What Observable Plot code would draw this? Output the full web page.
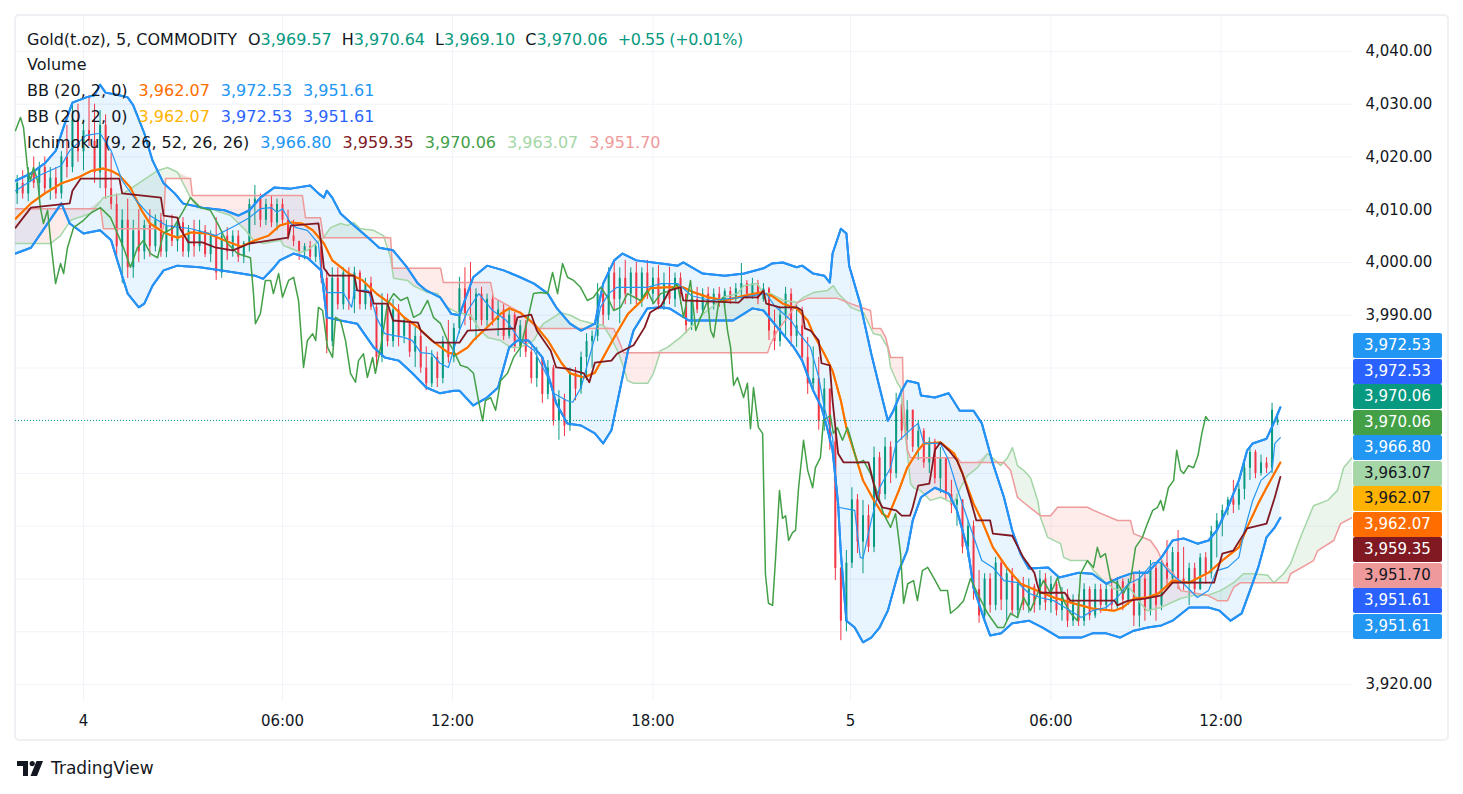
<!DOCTYPE html>
<html><head><meta charset="utf-8">
<script src="https://cdn.jsdelivr.net/npm/d3@7"></script>
<script src="https://cdn.jsdelivr.net/npm/@observablehq/plot@0.6"></script>
<style>
body{margin:0;background:#fff;font-family:"DejaVu Sans",sans-serif;color:#131722;}
#wrap{position:relative;width:1463px;height:794px;overflow:hidden;background:#fff;}
#frame{position:absolute;left:14px;top:14px;width:1435px;height:727px;border:2px solid #eef0f3;border-radius:5px;box-sizing:border-box;}
#chart{position:absolute;left:15px;top:15px;}
.row{position:absolute;left:27px;font-size:16px;line-height:20px;white-space:nowrap;}
.row span.v{margin-left:11px;}
.row span.g{margin-left:10px;}
.row span.c{margin-left:10px;letter-spacing:-0.4px;}
.tag{position:absolute;left:1353px;width:89px;height:25px;border-radius:2px;font-size:15px;line-height:17px;padding-top:4px;box-sizing:border-box;text-align:center;color:#fff;}
#logo{position:absolute;left:17px;top:757px;height:22px;display:flex;align-items:center;}
#logo span{font-size:17px;margin-left:7px;color:#131722;}
</style>
</head><body>
<div id="wrap">
  <div id="frame"></div>
  <div id="chart"></div>
  <div id="legend"></div>
  <div id="tags"></div>
  <div id="logo"><svg width="27" height="15" viewBox="0 0 27 15"><path d="M0 0H11V15H6V5H0Z" fill="#131722"/><circle cx="15.2" cy="2.6" r="2.6" fill="#131722"/><path d="M19.5 0H26L20 15H13.5Z" fill="#131722"/></svg><span>TradingView</span></div>
</div>
<script>
// ---------- data ----------
const symbolTitle = "Gold(t.oz), 5, COMMODITY";
const changeAbs = 0.55, changePct = 0.01;
const tickBars = [0, 72, 133.5, 206, 277.5, 350, 411.5];
const tickLabels = ["4", "06:00", "12:00", "18:00", "5", "06:00", "12:00"];
const yGrid = [3920, 3930, 3940, 3950, 3960, 3970, 3980, 3990, 4000, 4010, 4020, 4030, 4040];
const yLabelTicks = [3920, 3990, 4000, 4010, 4020, 4030, 4040]; // the rest sit under the value tags

// candles: one every 2 bars from bar -24
const barStart = -24, barStep = 2;
const candleOpen = [4013,4015,4013,4017,4015,4018,4014,4016,4013,4020,4018,4027,4021,4025,4023,4017,4026,4014,4011,4003,4008,3999,4006,4002,4007,4003,4008,4002,4007,4004,4007.5,4002,4006,4003,4006,4001.5,4005,3998,4005,4002,4005,4001,4003.6,4011,4012,4008,4011,4007.5,4011,4008,4005,4004,4002,4003,4001,4003,3997,3985,3997,3992,3998,3993,3998,3992,3996,3991.5,3982,3992,3985,3991,3986,3989,3983,3986,3980,3977,3982,3978,3985,3982,3987.5,3995,3990,3989,3994,3989,3993,3989,3991,3986,3990,3984,3988,3983,3978,3982,3975,3980,3970,3974,3969,3979,3976,3982,3985,3986,3994,3990,3998,3993,3997,3994,3998,3993,3998,3994,3997,3992,3996,3993,3997,3994,3988,3993,3991,3994,3992,3994,3992.5,3994.5,3993,3995,3996,3994,3996,3993,3995,3987,3985,3990,3994,3986,3988,3982,3977,3978,3970,3976,3966,3942,3932,3943,3955,3947,3952,3946,3963,3956,3965,3960,3973,3968,3972,3965,3968,3962,3966,3959,3963,3956,3954,3955,3946,3950,3938,3933,3940,3935,3943,3936,3941,3934,3939,3935,3938.5,3935,3940,3935.5,3939,3934,3937,3932,3936,3932,3938,3933,3938,3935,3938,3935,3939.5,3936,3939,3933,3940,3934,3942,3935,3943,3940,3945,3940,3939,3942,3938,3944,3941,3949,3951,3953,3955,3954,3957,3961,3964,3960,3962,3961,3969.57];
const candleHigh = [4016.5,4017.4,4018,4020,4019,4020,4018,4018,4021,4026,4029.8,4030,4027,4031.6,4030,4028.8,4028,4020.7,4013,4010,4012,4008,4010,4008,4010,4009,4009.3,4008,4009,4008.5,4008.5,4007,4008,4008,4007,4006,4008.5,4006,4006.6,4006,4006,4004,4012,4014.6,4013,4012,4012.5,4012,4012,4009.9,4008,4004,4003.6,4004,4003.6,4003.6,3998.5,3999,3999,3999,3999,3999.1,3998.5,3997,3997.2,3992,3994.1,3994,3993,3992,3989.6,3989,3987.7,3987,3984,3983.3,3983,3986,3989,3988.4,3997.2,3999,4000,3995,3995.3,3994,3994,3992.8,3992,3991,3990.5,3989,3989,3984,3983.9,3982,3981.4,3980.5,3975.7,3975,3980,3980.1,3983,3986.5,3987,3996,3995,3999,4000,3999,4000.4,3999,4000,3999,4000.4,3999,3999.4,3998,3999.1,3998,3998,3994,3994.7,3995.3,3995,3995.3,3995,3995.3,3995,3995.3,3996,3999.8,3996.6,3997,3996.6,3996,3995.3,3991,3991.5,3995.3,3995,3992,3991.5,3985.8,3984,3982,3978,3976,3967.6,3942.2,3945.4,3957.3,3956,3954.9,3954,3965,3964,3966.8,3966,3975.2,3974,3973.8,3972,3970,3968.5,3966.8,3966.5,3964.9,3963,3958.7,3956,3955,3951,3951,3941.6,3941,3941,3944.1,3943.5,3942,3942,3940,3940.3,3940,3939,3941.6,3941,3940.5,3939.5,3938.4,3938,3937,3937,3939.1,3938.5,3939,3939,3939,3940,3940.3,3940,3940,3941,3941.6,3941,3943.5,3943,3944,3947.3,3946,3949.2,3946,3943,3943,3944.8,3945,3950,3952.4,3954,3955.5,3958.7,3958,3962,3965,3964.4,3963.5,3963,3973.3,3970.64];
const candleLow = [4011,4012,4011.5,4014,4012,4013,4011.8,4012,4012,4016,4017,4019,4017.4,4022,4015,4014,4012,4010,4001,3996,3997,3997,4000,4000.5,4001,4002,4001,4000.9,4003,4002,4001,4000.9,4001,4002,4000.9,4000,3996.6,3997,4000.4,4001,4000,3999.8,4002,4007,4006.6,4007,4006.6,4006,4007,4004.2,4003,4000.4,4000.5,4000.4,4000,3996,3982.7,3984,3991,3991,3990.9,3990.3,3991,3991,3990.9,3979.5,3981,3984,3983.9,3984,3984.6,3982,3980.1,3979,3975.7,3976.3,3976.3,3977,3980.9,3981,3986.5,3988,3987,3985.2,3988,3987.7,3988,3986,3985.2,3985.5,3983,3982,3982,3977,3976.3,3973.3,3974,3969,3966.3,3967,3968,3973.8,3975,3977.6,3980,3985,3988,3989,3991,3988.4,3992,3992,3992,3991.5,3993,3992,3991,3990.9,3992,3991.5,3992,3986.5,3987.1,3990.3,3990.3,3991,3991,3991.5,3991.5,3992,3992.5,3993,3993,3993,3992,3992.5,3985.2,3983.3,3984,3986,3984,3983.9,3981.4,3975,3976,3968.2,3968,3964.4,3939.7,3928.3,3930,3942,3944.8,3941,3945,3945,3954.3,3955,3958.1,3959,3966.3,3966.3,3964,3962.5,3961,3960,3958,3956.2,3955,3952.4,3950,3944.8,3944,3936,3931.6,3932,3933.5,3934,3934,3932.1,3933,3932.5,3934,3933.5,3933.5,3934,3934,3933.5,3933,3932,3930.8,3931,3931,3931,3932.1,3932.5,3933.5,3934,3934,3934,3934,3935,3931,3930.8,3932,3933,3932,3934,3938.4,3939,3938,3937.8,3935,3937,3937.8,3939,3940,3944,3948,3952,3952.4,3953,3955,3958.7,3959,3959.5,3960,3960,3969.10];
const candleClose = [4015,4013,4017,4015,4018,4014,4016,4013,4020,4018,4027,4021,4025,4023,4017,4026,4014,4011,4003,4008,3999,4006,4002,4007,4003,4008,4002,4007,4004,4007.5,4002,4006,4003,4006,4001.5,4005,3998,4005,4002,4005,4001,4003.6,4011,4012,4008,4011,4007.5,4011,4008,4005,4004,4002,4003,4001,4003,3997,3985,3997,3992,3998,3993,3998,3992,3996,3991.5,3982,3992,3985,3991,3986,3989,3983,3986,3980,3977,3982,3978,3985,3982,3987.5,3995,3990,3989,3994,3989,3993,3989,3991,3986,3990,3984,3988,3983,3978,3982,3975,3980,3970,3974,3969,3979,3976,3982,3985,3986,3994,3990,3998,3993,3997,3994,3998,3993,3998,3994,3997,3992,3996,3993,3997,3994,3988,3993,3991,3994,3992,3994,3992.5,3994.5,3993,3995,3996,3994,3996,3993,3995,3987,3985,3990,3994,3986,3988,3982,3977,3978,3970,3976,3966,3942,3932,3943,3955,3947,3952,3946,3963,3956,3965,3960,3973,3968,3972,3965,3968,3962,3966,3959,3963,3956,3954,3955,3946,3950,3938,3933,3940,3935,3943,3936,3941,3934,3939,3935,3938.5,3935,3940,3935.5,3939,3934,3937,3932,3936,3932,3938,3933,3938,3935,3938,3935,3939.5,3936,3939,3933,3940,3934,3942,3935,3943,3940,3945,3940,3939,3942,3938,3944,3941,3949,3951,3953,3955,3954,3957,3961,3964,3960,3962,3961,3972,3970.06];

// Bollinger Bands (20, 2, 0): [bar, price]
const bbUpper = [[-24.6,4015.5],[-19,4016.9],[-14,4018.8],[-10,4021.2],[-7,4026.0],[-4,4030.3],[1,4031.3],[4,4031.7],[6,4033.7],[8,4032.2],[13,4031.7],[16,4031.3],[18,4029.8],[22,4024.5],[25,4019.3],[29,4015.0],[33,4013.1],[36,4011.2],[43,4010.4],[51,4009.9],[56,4008.9],[60,4009.9],[64,4012.3],[69,4014.2],[75,4014.0],[82,4014.6],[85,4013.1],[87,4012.3],[88,4013.6],[90,4012.3],[93,4009.3],[97,4007.4],[103,4004.7],[107,4002.8],[112,4002.3],[117,3999.1],[121,3996.0],[124,3994.7],[129,3993.4],[133,3990.3],[136,3990.0],[141,3997.2],[146,3999.4],[152,3998.5],[158,3997.2],[163,3996.0],[168,3994.1],[171,3991.5],[176,3988.4],[180,3987.1],[185,3988.4],[188,3996.0],[192,4000.4],[195,4001.7],[200,4000.4],[209,3999.8],[215,3999.4],[217,4000.0],[224,3997.9],[232,3997.5],[239,3997.9],[246,3998.9],[249,3999.8],[253,4000.0],[258,3999.1],[260,3999.4],[264,3997.9],[268,3997.5],[270,3996.2],[271,4001.7],[274,4006.4],[276,4005.5],[277,3999.4],[281,3992.2],[285,3982.7],[288,3976.3],[291,3970.0],[293,3971.9],[296,3975.7],[298,3977.6],[302,3977.1],[303,3974.8],[308,3974.4],[313,3975.2],[317,3971.9],[322,3971.9],[325,3969.5],[329,3961.9],[333,3955.5],[336,3949.2],[339,3944.8],[342,3942.0],[349,3942.2],[353,3940.3],[360,3941.2],[365,3941.0],[370,3939.1],[375,3940.3],[380,3941.2],[385,3941.2],[390,3944.1],[394,3947.3],[398,3947.7],[403,3946.7],[407,3947.3],[410,3949.2],[414,3953.6],[418,3958.7],[421,3964.4],[423,3965.7],[428,3966.6],[431,3970.0],[433,3972.53]];
const bbBasis = [[-24.6,4008.3],[-19,4011.2],[-14,4013.1],[-8,4015.0],[-2,4016.1],[3,4017.4],[7,4017.8],[10,4017.4],[13,4016.5],[17,4014.2],[21,4009.9],[24,4007.4],[29,4005.7],[34,4004.7],[39,4005.7],[45,4005.5],[51,4004.2],[57,4003.0],[62,4004.2],[67,4005.1],[71,4007.0],[75,4007.6],[79,4007.4],[83,4006.1],[87,4003.6],[90,4000.4],[96,3997.9],[101,3996.6],[106,3994.1],[111,3992.2],[116,3989.6],[121,3987.7],[126,3985.2],[132,3982.9],[135,3982.6],[139,3983.9],[141,3985.2],[146,3987.7],[151,3990.3],[154,3991.3],[158,3990.5],[163,3988.4],[168,3985.2],[173,3980.9],[176,3979.0],[181,3978.2],[185,3979.1],[188,3982.0],[192,3985.8],[197,3990.3],[202,3992.8],[205,3995.1],[211,3995.3],[217,3995.3],[221,3994.3],[226,3993.4],[232,3992.8],[239,3993.7],[245,3994.3],[249,3993.7],[253,3992.2],[258,3991.3],[262,3989.0],[264,3986.5],[268,3982.7],[271,3979.5],[274,3973.8],[276,3968.7],[279,3963.8],[282,3958.7],[286,3954.9],[289,3952.4],[291,3951.7],[295,3956.8],[298,3961.1],[302,3964.4],[304,3965.7],[310,3965.9],[315,3963.8],[318,3960.0],[322,3954.3],[325,3951.1],[329,3946.0],[334,3942.2],[339,3939.1],[345,3937.8],[351,3936.5],[358,3935.4],[365,3934.4],[373,3934.0],[376,3934.6],[380,3936.3],[385,3936.5],[389,3937.3],[394,3939.7],[400,3939.3],[407,3941.2],[412,3943.5],[418,3946.0],[421,3949.8],[425,3954.3],[428,3957.3],[433,3962.07]];
const bbLower = [[-24.6,4001.7],[-19,4002.8],[-14,4006.6],[-8,4011.2],[-5,4007.4],[0,4005.5],[6,4006.1],[10,4004.2],[13,3999.1],[16,3994.1],[20,3991.5],[22,3992.2],[25,3995.6],[29,3998.5],[34,3999.4],[42,3999.1],[50,3998.5],[57,3997.9],[62,3997.5],[65,3996.9],[69,3999.1],[71,4000.4],[76,4001.7],[81,4000.9],[86,3998.5],[87,3994.1],[88,3989.6],[93,3989.0],[99,3988.4],[105,3983.9],[109,3982.0],[114,3981.4],[119,3979.0],[124,3976.3],[129,3975.2],[134,3975.7],[136,3975.7],[141,3972.9],[146,3974.4],[150,3976.3],[152,3980.1],[154,3983.9],[157,3985.2],[161,3985.2],[166,3982.0],[169,3977.1],[171,3973.3],[175,3969.5],[180,3969.1],[185,3967.6],[188,3965.7],[191,3968.2],[194,3975.7],[197,3983.3],[199,3987.1],[204,3991.3],[209,3991.5],[212,3991.3],[219,3989.0],[224,3989.0],[235,3989.0],[239,3990.3],[242,3991.3],[246,3990.9],[249,3989.0],[252,3987.1],[257,3983.9],[260,3981.4],[264,3975.7],[267,3972.5],[269,3968.7],[271,3964.4],[273,3954.3],[274,3944.8],[275,3938.4],[276,3932.1],[279,3930.8],[282,3928.0],[285,3928.9],[288,3930.8],[291,3934.0],[295,3941.6],[298,3945.4],[300,3951.1],[303,3955.5],[308,3957.3],[313,3956.2],[316,3953.0],[320,3945.4],[322,3938.4],[326,3932.1],[328,3929.3],[332,3929.7],[336,3931.6],[342,3932.1],[347,3930.8],[353,3928.9],[361,3928.9],[365,3929.7],[370,3929.7],[375,3928.9],[380,3930.2],[385,3930.8],[390,3931.2],[394,3932.1],[400,3934.6],[407,3934.6],[411,3934.0],[415,3932.1],[419,3933.5],[422,3937.8],[425,3942.2],[428,3947.9],[431,3949.8],[433,3951.61]];

// Ichimoku (9, 26, 52, 26, 26): [bar, price]
const tenkan = [[-24.6,4013.6],[-16,4016.5],[-8,4018.4],[-5,4021.2],[1,4024.1],[6,4024.5],[10,4021.2],[14,4015.5],[19,4011.8],[24,4008.9],[30,4007.0],[39,4006.4],[48,4005.1],[55,4007.0],[60,4008.5],[64,4010.2],[68,4010.4],[70,4009.5],[72,4010.2],[75,4007.4],[77,4006.6],[81,4006.1],[85,4003.6],[86,3997.9],[88,3994.3],[94,3994.3],[97,3991.5],[98,3994.7],[103,3994.7],[105,3991.5],[106,3989.6],[109,3986.5],[112,3986.2],[116,3985.8],[119,3985.2],[122,3982.9],[126,3982.7],[129,3980.9],[132,3980.1],[136,3987.1],[139,3990.9],[143,3994.1],[148,3990.9],[153,3989.0],[158,3985.2],[163,3983.3],[168,3978.2],[170,3975.2],[175,3973.8],[177,3973.5],[180,3976.3],[182,3980.1],[185,3985.8],[187,3991.5],[190,3994.1],[193,3995.3],[204,3995.3],[209,3996.0],[215,3996.0],[220,3993.7],[227,3992.8],[238,3993.4],[247,3994.1],[250,3991.8],[256,3989.0],[259,3986.5],[263,3983.9],[266,3978.2],[268,3972.5],[271,3966.8],[273,3953.6],[279,3953.0],[281,3944.1],[282,3943.9],[285,3951.1],[288,3957.3],[292,3961.1],[294,3965.7],[300,3968.7],[302,3969.5],[304,3965.7],[310,3965.7],[313,3962.5],[316,3957.3],[320,3951.1],[325,3943.5],[329,3942.2],[333,3939.7],[338,3939.3],[342,3937.3],[346,3936.5],[351,3935.9],[357,3934.0],[361,3932.7],[365,3934.0],[370,3934.6],[374,3936.5],[378,3939.1],[382,3940.1],[387,3943.1],[390,3943.1],[393,3941.2],[398,3939.1],[403,3936.5],[407,3937.8],[410,3941.6],[414,3942.2],[418,3944.1],[420,3949.2],[423,3954.9],[426,3958.7],[430,3960.6],[431,3965.7],[433,3966.80]];
const kijun = [[-24.6,4006.6],[-19,4010.4],[-5,4011.2],[-4,4013.6],[-1,4015.9],[13,4015.9],[14,4013.1],[28,4012.3],[29,4008.9],[34,4008.5],[35,4006.4],[38,4003.8],[43,4003.8],[48,4002.8],[54,4002.3],[60,4003.6],[74,4004.7],[75,4007.0],[85,4007.4],[86,4003.6],[87,3998.9],[89,3997.5],[98,3997.5],[99,3994.7],[104,3994.3],[105,3992.2],[110,3992.2],[112,3989.0],[121,3988.6],[122,3987.1],[127,3984.8],[136,3984.8],[139,3987.1],[156,3987.5],[157,3989.6],[162,3990.1],[164,3987.1],[169,3983.3],[171,3980.1],[175,3979.9],[181,3979.0],[183,3977.3],[185,3981.0],[191,3981.4],[193,3982.7],[199,3984.3],[203,3987.7],[205,3990.5],[209,3991.8],[212,3994.7],[216,3995.3],[217,3992.8],[237,3992.4],[239,3993.4],[244,3993.4],[246,3994.7],[247,3992.2],[252,3991.5],[258,3991.5],[260,3990.9],[261,3987.5],[263,3987.1],[266,3985.2],[267,3980.9],[270,3980.5],[271,3973.8],[273,3963.8],[275,3962.1],[284,3962.1],[285,3960.0],[287,3955.5],[289,3953.6],[294,3953.0],[296,3952.0],[299,3952.0],[300,3953.6],[302,3957.7],[306,3958.1],[308,3964.4],[310,3965.9],[313,3964.4],[316,3962.5],[318,3960.0],[321,3954.9],[323,3951.1],[328,3951.1],[329,3948.6],[336,3948.2],[340,3944.1],[344,3941.2],[345,3939.1],[346,3937.4],[355,3937.4],[357,3935.9],[373,3935.9],[374,3935.0],[378,3935.9],[384,3936.3],[390,3936.9],[394,3939.3],[409,3939.3],[412,3944.8],[416,3945.4],[421,3949.6],[428,3950.5],[431,3955.5],[433,3959.35]];
const chikou = [[-24.6,4025.0],[-22.8,4027.5],[-21.7,4025.6],[-20.3,4018.0],[-19.2,4015.5],[-18.1,4018.0],[-16.6,4015.5],[-15.6,4010.4],[-14.5,4007.4],[-13.0,4009.9],[-11.9,4004.2],[-10.1,3996.0],[-8.3,3999.8],[-7.2,3997.9],[-5.8,4002.8],[-3.6,4006.6],[0,4008.0],[2.5,4009.3],[6.1,4010.4],[9.8,4008.5],[12.3,4005.5],[14.5,4002.8],[17.0,3999.1],[19.5,4002.8],[21.7,4004.2],[24.2,4001.7],[26.8,4000.9],[28.9,4005.5],[32.6,4006.6],[36.2,4009.9],[38.7,4012.3],[42.3,4010.4],[45.9,4009.9],[48.5,4007.4],[52.1,4003.6],[55.7,4001.7],[60.4,4000.9],[61.5,3994.1],[62.2,3988.4],[64.0,3990.3],[65.8,3996.6],[67.7,3996.6],[68.7,3994.1],[70.6,3997.9],[72.0,3993.4],[74.2,3996.6],[76.0,3997.2],[77.8,3992.8],[79.6,3980.1],[81.0,3985.2],[82.9,3986.5],[84.0,3985.2],[85.0,3991.5],[86.5,3990.9],[88.3,3983.9],[90.1,3982.0],[91.2,3989.6],[93.0,3989.0],[94.8,3985.2],[96.6,3979.0],[98.4,3977.3],[99.5,3981.4],[101.3,3982.7],[102.7,3978.2],[104.6,3982.0],[105.6,3979.0],[107.5,3983.9],[110.0,3992.2],[112.2,3994.1],[114.7,3992.8],[117.2,3993.4],[119.4,3989.6],[121.9,3990.3],[124.5,3992.8],[126.6,3989.6],[129.2,3988.4],[131.7,3985.2],[133.9,3983.3],[136.4,3980.5],[138.9,3980.1],[141.1,3979.0],[142.9,3973.8],[144.4,3970.0],[145.4,3973.8],[147.3,3974.4],[149.1,3972.0],[150.9,3977.6],[153.4,3979.0],[155.6,3982.0],[158.1,3983.9],[160.6,3989.0],[162.8,3994.1],[165.3,3994.3],[167.9,3994.1],[169.7,3998.1],[171.5,3994.1],[173.3,3999.8],[175.1,3997.2],[177.3,3996.6],[179.8,3995.3],[182.3,3992.8],[184.5,3993.4],[187.1,3995.3],[189.6,3993.4],[191.8,3990.9],[194.3,3991.5],[196.8,3994.1],[201.5,3992.8],[204.0,3994.7],[206.2,3992.2],[208.8,3994.1],[212.4,3994.7],[214.9,3996.0],[217.1,3989.6],[219.6,3996.6],[221.5,3987.1],[223.3,3989.6],[225.8,3992.8],[226.9,3987.1],[228.0,3985.8],[229.7,3992.2],[231.5,3993.4],[233.0,3987.1],[234.1,3983.9],[235.2,3976.7],[236.6,3978.2],[238.8,3974.4],[240.2,3977.1],[241.3,3968.5],[242.4,3976.3],[244.2,3968.7],[245.7,3967.6],[246.7,3941.0],[247.8,3935.4],[249.3,3935.0],[250.4,3944.1],[251.8,3956.8],[252.9,3951.5],[254.0,3952.0],[255.1,3947.3],[256.5,3948.8],[257.6,3949.2],[258.7,3957.3],[260.5,3966.3],[262.0,3960.6],[263.8,3957.3],[264.8,3961.1],[266.6,3963.0],[267.7,3970.0],[270.2,3971.0],[271.3,3967.6],[272.7,3968.7],[274.6,3966.3],[276.4,3968.7],[277.5,3966.8],[280.0,3961.9],[282.2,3962.5],[284.7,3960.0],[287.3,3956.2],[289.4,3952.4],[292.0,3949.8],[293.8,3952.4],[295.6,3944.8],[296.7,3935.4],[298.2,3939.1],[300.3,3939.7],[301.7,3935.9],[303.5,3941.6],[305.4,3942.2],[307.5,3940.3],[310.1,3937.8],[312.6,3937.8],[313.7,3933.5],[316.2,3934.6],[318.4,3935.9],[320.9,3940.1],[323.4,3937.3],[327.1,3933.5],[330.7,3930.8],[332.9,3930.8],[335.4,3933.5],[337.9,3932.7],[340.1,3936.5],[342.6,3934.0],[345.2,3937.3],[347.3,3939.7],[349.9,3937.3],[352.4,3940.3],[354.6,3935.9],[357.1,3933.5],[359.6,3932.1],[360.7,3941.0],[363.2,3943.5],[365.4,3942.2],[366.8,3946.0],[367.9,3944.1],[369.7,3944.8],[371.6,3939.7],[374.1,3939.1],[376.3,3937.3],[378.8,3939.7],[380.6,3946.0],[383.1,3947.9],[384.9,3950.5],[386.8,3953.0],[388.6,3953.6],[389.7,3954.9],[390.7,3953.0],[392.5,3957.3],[394.4,3958.7],[395.5,3964.4],[396.9,3960.6],[398.0,3960.0],[399.8,3961.5],[401.6,3961.1],[403.2,3963.4],[404.6,3967.6],[406.0,3970.8],[407,3970.06]];
const senkouA = [[-24.6,4003.6],[-11.9,4003.6],[-8.3,4005.1],[-4.7,4008.0],[2.5,4009.3],[7.2,4012.3],[14.5,4013.1],[26.8,4017.4],[30.4,4018.0],[34.0,4017.1],[38.7,4012.3],[41.2,4010.4],[45.9,4010.2],[53.2,4008.9],[58.6,4006.1],[61.5,4004.2],[65.1,4003.6],[71.3,4004.2],[72.4,4003.2],[74.9,4002.7],[78.5,4001.9],[81.0,4002.3],[86.8,4004.7],[89.4,4006.6],[93.0,4007.4],[95.5,4007.0],[97.7,4007.6],[100.2,4006.4],[104.9,4006.1],[108.5,4005.1],[111.1,4000.9],[112.2,3997.0],[117.2,3996.6],[119.4,3995.6],[124.5,3994.3],[128.1,3994.1],[131.7,3991.5],[135.3,3990.5],[140.0,3990.0],[143.6,3987.1],[146.2,3985.8],[150.9,3985.2],[154.5,3983.9],[158.1,3983.9],[162.8,3985.2],[166.4,3988.4],[170.0,3989.6],[172.6,3990.5],[176.2,3990.0],[179.8,3989.0],[184.5,3988.4],[188.1,3988.1],[190.7,3985.8],[193.2,3983.3],[195.4,3980.1],[196.8,3977.6],[199.0,3977.1],[204.1,3977.1],[206.2,3979.0],[208.8,3983.3],[211.3,3983.9],[213.5,3984.8],[216.0,3985.8],[222.1,3989.0],[224.3,3990.3],[228.0,3991.8],[231.5,3993.4],[236.6,3994.1],[238.8,3995.6],[243.8,3996.0],[246.0,3994.1],[248.6,3994.1],[253.3,3992.8],[258.3,3992.4],[260.5,3993.4],[264.1,3994.3],[269.2,3994.7],[271.3,3995.6],[272.8,3994.3],[277.5,3991.5],[282.2,3990.5],[285.8,3986.5],[288.4,3986.2],[290.9,3983.9],[292.0,3980.1],[294.5,3977.1],[295.6,3976.3],[296.7,3970.0],[298.1,3963.8],[299.2,3958.1],[300.3,3957.3],[302.8,3956.8],[306.4,3954.9],[310.1,3955.5],[314.8,3954.3],[317.3,3957.3],[319.8,3959.6],[323.4,3961.1],[327.1,3963.8],[329.2,3962.8],[331.8,3961.5],[334.3,3963.0],[336.1,3964.9],[337.9,3961.5],[340.1,3960.6],[342.6,3959.2],[345.2,3954.9],[346.2,3951.7],[348.8,3947.9],[353.5,3946.7],[354.6,3944.1],[357.1,3943.5],[363.2,3943.5],[365.4,3941.6],[369.0,3939.7],[372.7,3938.2],[375.2,3937.8],[377.7,3938.8],[379.9,3937.3],[382.4,3935.4],[384.9,3934.0],[389.7,3934.6],[396.9,3936.3],[401.6,3936.9],[406.7,3936.9],[411.4,3937.8],[416.1,3939.3],[419.7,3941.0],[423.3,3941.0],[428.4,3940.7],[430.6,3939.3],[434.2,3941.0],[436.7,3942.9],[440.3,3947.9],[445.0,3953.9],[450.1,3954.9],[453.7,3956.8],[455.9,3961.1],[459.1,3963.07]];
const senkouB = [[-24.6,4010.2],[6.2,4010.2],[7.2,4006.4],[28.9,4006.4],[29.7,4015.9],[38.7,4015.9],[39.4,4012.7],[79.2,4012.7],[80.3,4008.5],[85.7,4008.5],[86.8,4004.7],[111.1,4004.7],[111.8,3998.9],[129.2,3998.9],[130.2,3996.2],[147.3,3996.2],[148.3,3993.4],[158.1,3990.5],[164.3,3987.5],[191.8,3987.5],[193.2,3985.8],[195.4,3982.9],[247.5,3982.9],[248.6,3984.6],[251.1,3987.1],[254.7,3989.6],[258.3,3992.4],[261.9,3993.2],[272.8,3993.2],[277.5,3992.2],[284.7,3990.9],[285.5,3987.5],[288.4,3987.5],[290.2,3985.8],[292.0,3982.0],[296.3,3982.0],[296.7,3973.3],[298.1,3964.4],[299.2,3963.0],[316.2,3963.0],[317.3,3962.1],[332.9,3962.1],[335.4,3960.6],[337.9,3955.5],[340.1,3954.5],[346.2,3952.0],[349.9,3952.0],[352.4,3953.6],[363.2,3953.6],[365.4,3953.0],[374.1,3951.1],[378.8,3951.1],[379.9,3948.6],[386.0,3947.3],[388.6,3945.4],[390.7,3942.9],[394.4,3941.0],[396.9,3937.8],[406.7,3936.9],[410.3,3935.9],[413.9,3935.9],[416.1,3938.4],[418.6,3939.3],[435.6,3939.3],[436.7,3941.0],[445.0,3943.5],[446.5,3945.4],[452.3,3947.3],[454.8,3950.5],[459.1,3951.70]];

// ---------- styles ----------
const C = {up:"#089981", down:"#F23645", bbBand:"#2196F3", bbMid:"#FF6D00", bb2Band:"#2962FF", bb2Mid:"#FFB300",
  tenkan:"#2196F3", kijun:"#801922", chikou:"#43A047", spanA:"#A5D6A7", spanB:"#EF9A9A", grid:"#f0f3fa", text:"#131722"};

// ---------- derived tables ----------
const candles = candleOpen.map((o, i) => ({bar: barStart + i * barStep, open: o, high: candleHigh[i], low: candleLow[i], close: candleClose[i]}));
const upC = candles.filter(d => d.close >= d.open), dnC = candles.filter(d => d.close < d.open);
const last = a => a[a.length - 1][1];
const lastC = candles[candles.length - 1];

function merge(a, b) {
  const fa = d3.scaleLinear(a.map(d => d[0]), a.map(d => d[1]));
  const fb = d3.scaleLinear(b.map(d => d[0]), b.map(d => d[1]));
  const lo = Math.max(a[0][0], b[0][0]), hi = Math.min(a[a.length-1][0], b[b.length-1][0]);
  const xs = Array.from(new Set([...a, ...b].map(d => d[0]))).filter(x => x >= lo && x <= hi).sort((p, q) => p - q);
  return xs.map(x => ({x, a: fa(x), b: fb(x)}));
}
const band = merge(bbUpper, bbLower);
const cloud = merge(senkouA, senkouB);
const L = (data, stroke, w, extra = {}) => Plot.line(data, {x: d => d[0], y: d => d[1], stroke, strokeWidth: w, clip: true, ...extra});

const fmt = d3.format(",.2f");
const chart = Plot.plot({
  width: 1433, height: 725, marginLeft: 0, marginRight: 96, marginTop: 0, marginBottom: 40,
  style: {fontFamily: "DejaVu Sans, sans-serif", fontSize: "15px", color: C.text, background: "transparent", overflow: "visible"},
  x: {domain: [-24.6, 459.1]},
  y: {domain: [3916.97, 4046.82]},
  marks: [
    Plot.gridY(yGrid, {stroke: C.grid, strokeOpacity: 1}),
    Plot.gridX(tickBars, {stroke: C.grid, strokeOpacity: 1}),
    Plot.axisY(yLabelTicks, {anchor: "right", tickSize: 0, tickPadding: 13, tickFormat: fmt, label: null, fill: C.text}),
    Plot.axisX(tickBars, {anchor: "bottom", tickSize: 0, tickPadding: 15, tickFormat: d => tickLabels[tickBars.indexOf(d)], label: null, fill: C.text}),
    // ichimoku cloud
    Plot.areaY(cloud, {x: "x", y1: "b", y2: d => Math.max(d.a, d.b), fill: "#43A047", fillOpacity: 0.1, clip: true}),
    Plot.areaY(cloud, {x: "x", y1: "a", y2: d => Math.max(d.a, d.b), fill: "#F44336", fillOpacity: 0.1, clip: true}),
    // bollinger fill
    Plot.areaY(band, {x: "x", y1: "b", y2: "a", fill: C.bbBand, fillOpacity: 0.1, clip: true}),
    // candles
    Plot.ruleX(upC, {x: "bar", y1: "low", y2: "high", stroke: C.up, strokeWidth: 1}),
    Plot.ruleX(dnC, {x: "bar", y1: "low", y2: "high", stroke: C.down, strokeWidth: 1}),
    Plot.ruleX(upC, {x: "bar", y1: "open", y2: "close", stroke: C.up, strokeWidth: 2}),
    Plot.ruleX(dnC, {x: "bar", y1: "open", y2: "close", stroke: C.down, strokeWidth: 2}),
    // price line
    Plot.ruleY([lastC.close], {stroke: C.up, strokeWidth: 1, strokeDasharray: "1,2"}),
    // senkou spans
    L(senkouA, C.spanA, 1.5),
    L(senkouB, C.spanB, 1.5),
    // BB #2 (beneath) and BB #1
    L(bbUpper, C.bb2Band, 2), L(bbLower, C.bb2Band, 2), L(bbBasis, C.bb2Mid, 2),
    L(bbUpper, C.bbBand, 2), L(bbLower, C.bbBand, 2), L(bbBasis, C.bbMid, 2),
    // ichimoku lines
    L(chikou, C.chikou, 1.5),
    L(tenkan, C.tenkan, 1.2),
    L(kijun, C.kijun, 1.8)
  ]
});
document.getElementById("chart").appendChild(chart);

// ---------- legend ----------
const legendRows = [
  {top: 29.5, html: `${symbolTitle}<span class="v">O<span style="color:${C.up}">${fmt(lastC.open)}</span></span><span class="g">H<span style="color:${C.up}">${fmt(lastC.high)}</span></span><span class="g">L<span style="color:${C.up}">${fmt(lastC.low)}</span></span><span class="g">C<span style="color:${C.up}">${fmt(lastC.close)}</span></span><span class="c" style="color:${C.up}">+${changeAbs.toFixed(2)} (+${changePct.toFixed(2)}%)</span>`},
  {top: 54.5, html: "Volume"},
  {top: 80.5, html: `BB (20, 2, 0)<span class="v" style="color:${C.bbMid}">${fmt(last(bbBasis))}</span><span class="v" style="color:${C.bbBand}">${fmt(last(bbUpper))}</span><span class="v" style="color:${C.bbBand}">${fmt(last(bbLower))}</span>`},
  {top: 106.5, html: `BB (20, 2, 0)<span class="v" style="color:${C.bb2Mid}">${fmt(last(bbBasis))}</span><span class="v" style="color:${C.bb2Band}">${fmt(last(bbUpper))}</span><span class="v" style="color:${C.bb2Band}">${fmt(last(bbLower))}</span>`},
  {top: 132.5, html: `Ichimoku (9, 26, 52, 26, 26)<span class="v" style="color:${C.tenkan}">${fmt(last(tenkan))}</span><span class="v" style="color:${C.kijun}">${fmt(last(kijun))}</span><span class="v" style="color:${C.chikou}">${fmt(last(chikou))}</span><span class="v" style="color:${C.spanA}">${fmt(last(senkouA))}</span><span class="v" style="color:${C.spanB}">${fmt(last(senkouB))}</span>`}
];
const lg = document.getElementById("legend");
legendRows.forEach(r => { const d = document.createElement("div"); d.className = "row"; d.style.top = r.top + "px"; d.innerHTML = r.html; lg.appendChild(d); });

// ---------- price-scale tags ----------
const tags = [
  [last(bbUpper), C.bbBand, "#fff"], [last(bbUpper), C.bb2Band, "#fff"], [lastC.close, C.up, "#fff"],
  [last(chikou), C.chikou, "#fff"], [last(tenkan), C.tenkan, "#fff"], [last(senkouA), C.spanA, "#131722"],
  [last(bbBasis), C.bb2Mid, "#131722"], [last(bbBasis), C.bbMid, "#fff"], [last(kijun), C.kijun, "#fff"],
  [last(senkouB), C.spanB, "#131722"], [last(bbLower), C.bb2Band, "#fff"], [last(bbLower), C.bbBand, "#fff"]
];
const tg = document.getElementById("tags");
tags.forEach((t, i) => { const d = document.createElement("div"); d.className = "tag"; d.style.top = (333 + i * 25.5) + "px"; d.style.background = t[1]; d.style.color = t[2]; d.textContent = fmt(t[0]); tg.appendChild(d); });
</script>
</body></html>
